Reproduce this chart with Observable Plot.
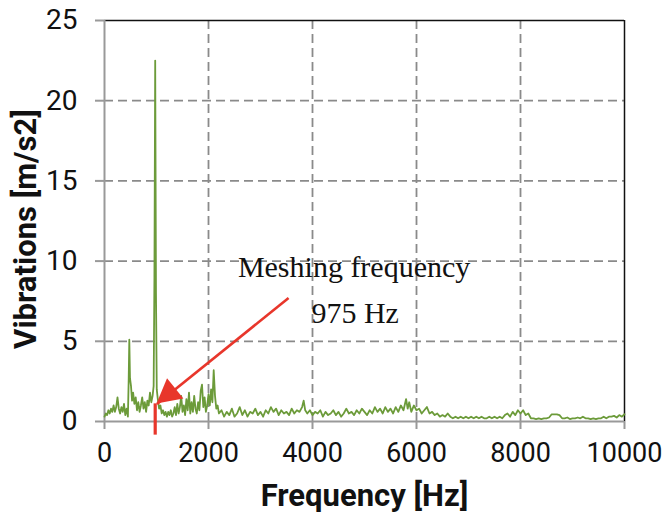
<!DOCTYPE html>
<html><head><meta charset="utf-8">
<script src="https://cdn.jsdelivr.net/npm/d3@7"></script>
<script src="https://cdn.jsdelivr.net/npm/@observablehq/plot@0.6"></script>
<style>html,body{margin:0;padding:0;background:#fff;}</style>
</head><body><div id="chart"></div>
<script>
const freq = [0,25,50,75,100,125,150,175,200,225,250,275,300,325,350,375,400,425,450,465,477,490,510,530,550,575,600,625,650,675,700,725,750,775,800,825,850,875,900,925,945,960,975,990,1005,1025,1050,1075,1100,1125,1150,1175,1200,1225,1250,1275,1300,1325,1350,1375,1400,1425,1450,1475,1500,1525,1550,1575,1600,1625,1650,1675,1700,1725,1750,1775,1800,1825,1850,1875,1900,1925,1950,1975,2000,2025,2050,2075,2100,2125,2150,2175,2200,2250,2300,2350,2400,2450,2500,2550,2600,2650,2700,2750,2800,2850,2900,2950,3000,3050,3100,3150,3200,3250,3300,3350,3400,3450,3500,3550,3600,3650,3700,3750,3800,3830,3860,3900,3950,4000,4050,4100,4150,4200,4250,4300,4350,4400,4450,4500,4550,4600,4650,4700,4750,4800,4850,4900,4950,5000,5050,5100,5150,5200,5250,5300,5350,5400,5450,5500,5550,5600,5650,5700,5750,5800,5830,5860,5900,5950,6000,6050,6100,6150,6200,6250,6300,6350,6400,6450,6500,6550,6600,6650,6700,6750,6800,6850,6900,6950,7000,7050,7100,7150,7200,7250,7300,7350,7400,7450,7500,7550,7600,7650,7700,7750,7800,7850,7900,7950,8000,8050,8100,8150,8200,8250,8300,8350,8400,8450,8500,8550,8600,8650,8700,8750,8800,8850,8900,8950,9000,9050,9100,9150,9200,9250,9300,9350,9400,9450,9500,9550,9600,9650,9700,9750,9800,9850,9900,9950,10000];
const vib = [0.3,0.5,0.4,0.7,0.5,0.8,0.6,1.0,0.6,0.9,1.5,0.8,0.5,0.9,0.6,1.1,0.4,0.8,0.3,2.6,5.1,2.7,2.2,1.3,1.8,1.1,1.5,0.7,1.2,0.6,1.0,1.5,0.8,1.2,0.6,1.3,1.0,1.8,1.2,1.6,2.2,9.0,22.5,8.0,2.0,1.4,0.8,1.0,0.5,0.7,0.4,0.6,0.3,0.6,0.4,0.7,0.3,0.5,0.9,0.4,1.1,0.5,0.9,1.6,0.6,1.0,0.4,1.4,0.7,1.8,0.5,1.2,0.6,1.6,0.8,0.5,1.2,0.7,1.9,2.3,0.9,1.5,0.6,1.0,1.7,1.0,2.0,1.2,3.2,1.6,0.8,1.0,0.5,0.7,0.3,0.6,0.4,0.8,0.3,0.5,0.9,0.4,0.7,0.3,0.6,0.5,0.8,0.4,0.6,0.3,0.7,0.5,0.9,0.6,0.8,0.4,0.7,0.5,0.6,0.4,0.8,0.5,0.7,0.6,0.9,1.3,0.7,0.5,0.7,0.4,0.6,0.5,0.7,0.3,0.6,0.4,0.5,0.7,0.4,0.6,0.3,0.5,0.8,0.5,0.6,0.4,0.7,0.5,0.8,0.6,0.4,0.7,0.5,0.9,0.6,0.8,0.5,0.9,0.6,0.8,0.5,0.9,0.6,1.0,0.7,1.4,0.8,1.2,0.6,1.0,0.7,0.8,0.5,0.7,0.9,0.5,0.6,0.4,0.5,0.3,0.4,0.3,0.5,0.3,0.2,0.3,0.2,0.3,0.2,0.3,0.2,0.3,0.2,0.3,0.2,0.3,0.2,0.2,0.3,0.2,0.3,0.2,0.3,0.2,0.4,0.5,0.3,0.6,0.4,0.7,0.5,0.7,0.4,0.5,0.2,0.2,0.15,0.2,0.15,0.2,0.2,0.25,0.45,0.45,0.45,0.4,0.2,0.2,0.25,0.15,0.2,0.2,0.25,0.2,0.3,0.2,0.2,0.15,0.2,0.15,0.2,0.2,0.3,0.2,0.3,0.3,0.35,0.25,0.4,0.3,0.45];

const xTicks = [0,2000,4000,6000,8000,10000];
const yTicks = [0,5,10,15,20,25];
const xGridLines = [2000,4000,6000,8000];
const yGridLines = [5,10,15,20];
const xTitle = "Frequency [Hz]";
const yTitle = "Vibrations [m/s2]";
const noteLines = ["Meshing frequency", "975 Hz"];
const meshFreq = 975;
// arrow: from near the note down to the meshing-frequency marker
const arrowFrom = {x: 3540, y: 7.7};
const arrowTo = {x: 1010, y: 1.09};
const markerSpan = [1.1, -0.85];

const data = freq.map((f, i) => ({f, v: vib[i]}));

const arrowHead = (index, scales) => {
  const sx = scales.x, sy = scales.y;
  const x1 = sx(arrowFrom.x), y1 = sy(arrowFrom.y), x2 = sx(arrowTo.x), y2 = sy(arrowTo.y);
  const L = Math.hypot(x2 - x1, y2 - y1), ux = (x2 - x1) / L, uy = (y2 - y1) / L;
  const bx = x2 - 24 * ux, by = y2 - 24 * uy, nx = -uy, ny = ux;
  const pts = [[x2, y2], [bx + 13 * nx, by + 13 * ny], [bx - 13 * nx, by - 13 * ny]];
  const g = d3.create("svg:polygon")
    .attr("points", pts.map(p => p.join(",")).join(" "))
    .attr("fill", "#e8362b");
  return g.node();
};

const chart = Plot.plot({
  width: 665, height: 515,
  marginLeft: 104, marginRight: 41, marginTop: 20, marginBottom: 94,
  style: {fontFamily: "Roboto, sans-serif", fontSize: "27px", background: "#fff", color: "#111", overflow: "visible"},
  x: {domain: [0, 10000], label: null},
  y: {domain: [0, 25], label: null},
  marks: [
    Plot.gridX(xGridLines, {stroke: "#8a8a8a", strokeOpacity: 1, strokeWidth: 1.8, strokeDasharray: "9,5"}),
    Plot.gridY(yGridLines, {stroke: "#8a8a8a", strokeOpacity: 1, strokeWidth: 1.8, strokeDasharray: "9,5"}),
    Plot.ruleY([25], {stroke: "#111", strokeWidth: 1.5}),
    Plot.ruleX([10000], {stroke: "#111", strokeWidth: 1.5}),
    Plot.ruleX([0], {stroke: "#999", strokeWidth: 2}),
    Plot.ruleY([0], {stroke: "#999", strokeWidth: 2}),
    Plot.axisX(xTicks, {tickSize: 8, tickPadding: 13, stroke: "#999", strokeWidth: 2, fill: "#111", fontSize: 27, tickFormat: d => String(d), label: null}),
    Plot.axisY(yTicks, {tickSize: 9, tickPadding: 18, stroke: "#999", strokeWidth: 2, fill: "#111", fontSize: 28, label: null}),
    Plot.line(data, {x: "f", y: "v", stroke: "#6c9b3a", strokeWidth: 1.8}),
    Plot.ruleX([meshFreq], {y1: markerSpan[0], y2: markerSpan[1], stroke: "#e8362b", strokeWidth: 3.2, clip: false}),
    Plot.link([arrowFrom], {x1: arrowFrom.x, y1: arrowFrom.y, x2: arrowTo.x, y2: arrowTo.y, stroke: "#e8362b", strokeWidth: 2.6}),
    arrowHead,
    Plot.text([noteLines[0]], {x: 4800, y: 9.6, text: d => d, fontFamily: "Liberation Serif, serif", fontSize: 30, fill: "#111"}),
    Plot.text([noteLines[1]], {x: 4820, y: 6.75, text: d => d, fontFamily: "Liberation Serif, serif", fontSize: 30, fill: "#111"}),
    Plot.text([xTitle], {frameAnchor: "bottom", dy: 84, text: d => d, fontSize: 31, fontWeight: "bold", fill: "#111"}),
    Plot.text([yTitle], {frameAnchor: "left", dx: -78, dy: 8, rotate: -90, textAnchor: "middle", text: d => d, fontSize: 31, fontWeight: "bold", fill: "#111"})
  ]
});
document.getElementById("chart").appendChild(chart);
</script>
</body></html>
